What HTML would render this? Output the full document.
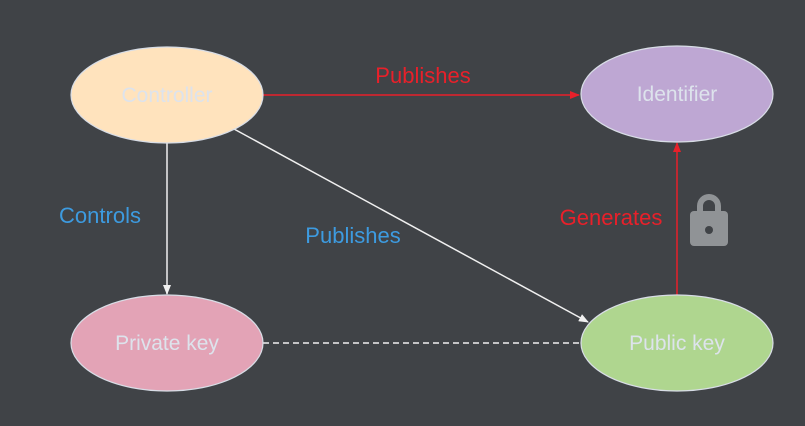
<!DOCTYPE html>
<html><head><style>body{margin:0;background:#404347;}svg{display:block}text{font-family:"Liberation Sans",Arial,sans-serif}</style></head><body>
<svg width="805" height="426" xmlns="http://www.w3.org/2000/svg">
<rect width="805" height="426" fill="#404347"/>
<defs>
<marker id="r" markerWidth="10" markerHeight="8" refX="9" refY="4" orient="auto" markerUnits="userSpaceOnUse" viewBox="0 0 10 8"><path d="M0,0 L10,4 L0,8 z" fill="#e8202a"/></marker>
<marker id="w" markerWidth="10" markerHeight="8" refX="9" refY="4" orient="auto" markerUnits="userSpaceOnUse" viewBox="0 0 10 8"><path d="M0,0 L10,4 L0,8 z" fill="#f0f0f0"/></marker>
</defs>
<line x1="263" y1="95" x2="579" y2="95" stroke="#e8202a" stroke-width="1.5" marker-end="url(#r)"/>
<line x1="677" y1="296" x2="677" y2="143" stroke="#e8202a" stroke-width="1.5" marker-end="url(#r)"/>
<line x1="167" y1="143" x2="167" y2="294" stroke="#f0f0f0" stroke-width="1.5" marker-end="url(#w)"/>
<line x1="234" y1="129" x2="588" y2="322" stroke="#f0f0f0" stroke-width="1.5" marker-end="url(#w)"/>
<line x1="263" y1="343" x2="581" y2="343" stroke="#f0f0f0" stroke-width="1.5" stroke-dasharray="6,4"/>
<ellipse cx="167" cy="95" rx="96" ry="48" fill="#ffe3bd" stroke="#d8dde6" stroke-width="1.2"/>
<ellipse cx="677" cy="94" rx="96" ry="48" fill="#bea7d3" stroke="#d8dde6" stroke-width="1.2"/>
<ellipse cx="167" cy="343" rx="96" ry="48" fill="#e3a3b6" stroke="#d8dde6" stroke-width="1.2"/>
<ellipse cx="677" cy="343" rx="96" ry="48" fill="#afd68f" stroke="#d8dde6" stroke-width="1.2"/>
<g font-size="21" fill="#dde3ec" text-anchor="middle">
<text x="167" y="102">Controller</text>
<text x="677" y="101">Identifier</text>
<text x="167" y="350">Private key</text>
<text x="677" y="350">Public key</text>
</g>
<text x="423" y="83" font-size="22" fill="#e8202a" text-anchor="middle">Publishes</text>
<text x="611" y="225" font-size="22" fill="#e8202a" text-anchor="middle">Generates</text>
<text x="100" y="223" font-size="22" fill="#3d9be0" text-anchor="middle">Controls</text>
<text x="353" y="243" font-size="22" fill="#3d9be0" text-anchor="middle">Publishes</text>
<g fill="#909396">
<path d="M697,213 v-7 a12,12 0 0 1 24,0 v7 h-6 v-7 a6,6 0 0 0 -12,0 v7 z"/>
<rect x="690" y="211" width="38" height="35" rx="4"/>
</g>
<circle cx="709" cy="230" r="4" fill="#404347"/>
</svg>
</body></html>
